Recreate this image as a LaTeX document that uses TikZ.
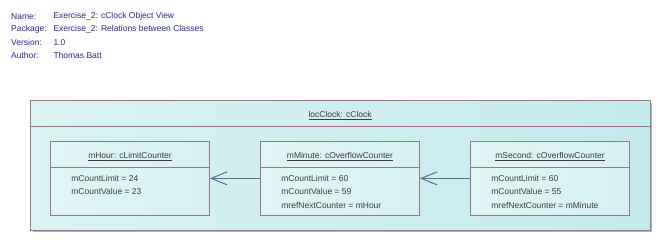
\documentclass[tikz,border=0pt]{standalone}
\usepackage{fontspec}
\setmainfont{Liberation Sans}
\usetikzlibrary{arrows.meta}

\definecolor{infotext}{RGB}{40,40,150}
\definecolor{boxline}{RGB}{150,122,122}
\definecolor{objtext}{RGB}{60,60,60}
\definecolor{linkline}{RGB}{95,110,138}
\definecolor{outerL}{RGB}{218,243,243}
\definecolor{outerR}{RGB}{196,234,238}
\definecolor{innerL}{RGB}{224,245,245}
\definecolor{innerR}{RGB}{214,241,243}
\definecolor{shadowgray}{RGB}{178,178,178}

\tikzset{
  txt/.style={font=\fontsize{8.5}{10}\selectfont, inner sep=0pt},
  info/.style={txt, text=infotext, anchor=west},
  objbox/.style={draw=boxline, line width=1pt, left color=innerL, right color=innerR,
    minimum width=158.6pt, minimum height=73.3pt, inner sep=0pt},
  objtitle/.style={txt, text=objtext},
  attr/.style={txt, text=objtext, anchor=west},
  sepline/.style={draw=boxline, line width=1pt},
  link/.style={draw=linkline, line width=1pt, -{Straight Barb[length=16pt, width=13pt, line width=1pt]}}
}

\newcommand{\ulabel}[1]{\underline{#1}}

\begin{document}
\begin{tikzpicture}[x=1pt, y=-1pt]
  \useasboundingbox (0,0) rectangle (660,241);
  \fill[white] (0,0) rectangle (660,241);

  % document properties
  \node[info] (lname) at (11,16.3) {Name:};
  \node[info] (lpkg)  at (11,29.5) {Package:};
  \node[info] (lver)  at (11,42.7) {Version:};
  \node[info] (lauth) at (11,55.8) {Author:};
  \node[info] (vname) at (53.3,16.3) {Exercise\_2: cClock Object View};
  \node[info] (vpkg)  at (53.3,29.5) {Exercise\_2: Relations between Classes};
  \node[info] (vver)  at (53.3,42.7) {1.0};
  \node[info] (vauth) at (53.3,55.8) {Thomas Batt};

  % enclosing object locClock
  \fill[shadowgray] (32.5,102.5) rectangle (652.3,232.3);
  \node[draw=boxline, line width=1pt, left color=outerL, right color=outerR,
        minimum width=619.7pt, minimum height=129.7pt, inner sep=0pt]
        (clock) at (340.15,165.15) {};
  \draw[sepline] ([yshift=-27pt]clock.north west) -- ([yshift=-27pt]clock.north east);
  \node[objtitle] (clocktitle) at ([yshift=-15.5pt]clock.north) {\ulabel{locClock: cClock}};

  % mHour
  \node[objbox] (mHour) at (130,178.35) {};
  \draw[sepline] ([yshift=-26.6pt]mHour.north west) -- ([yshift=-26.6pt]mHour.north east);
  \node[objtitle] (mHourT) at ([yshift=-15.3pt]mHour.north) {\ulabel{mHour: cLimitCounter}};
  \node[attr] (mHourA1) at ([xshift=21pt,yshift=-37.3pt]mHour.north west) {mCountLimit = 24};
  \node[attr] (mHourA2) at ([xshift=21pt,yshift=-50.6pt]mHour.north west) {mCountValue = 23};

  % mMinute
  \node[objbox] (mMinute) at (340,178.35) {};
  \draw[sepline] ([yshift=-26.6pt]mMinute.north west) -- ([yshift=-26.6pt]mMinute.north east);
  \node[objtitle] (mMinuteT) at ([yshift=-15.3pt]mMinute.north) {\ulabel{mMinute: cOverflowCounter}};
  \node[attr] (mMinuteA1) at ([xshift=21pt,yshift=-37.3pt]mMinute.north west) {mCountLimit = 60};
  \node[attr] (mMinuteA2) at ([xshift=21pt,yshift=-50.6pt]mMinute.north west) {mCountValue = 59};
  \node[attr] (mMinuteA3) at ([xshift=21pt,yshift=-63.9pt]mMinute.north west) {mrefNextCounter = mHour};

  % mSecond
  \node[objbox] (mSecond) at (550,178.35) {};
  \draw[sepline] ([yshift=-26.6pt]mSecond.north west) -- ([yshift=-26.6pt]mSecond.north east);
  \node[objtitle] (mSecondT) at ([yshift=-15.3pt]mSecond.north) {\ulabel{mSecond: cOverflowCounter}};
  \node[attr] (mSecondA1) at ([xshift=21pt,yshift=-37.3pt]mSecond.north west) {mCountLimit = 60};
  \node[attr] (mSecondA2) at ([xshift=21pt,yshift=-50.6pt]mSecond.north west) {mCountValue = 55};
  \node[attr] (mSecondA3) at ([xshift=21pt,yshift=-63.9pt]mSecond.north west) {mrefNextCounter = mMinute};

  % links
  \draw[link] (mMinute.west) -- (mHour.east);
  \draw[link] (mSecond.west) -- (mMinute.east);
\end{tikzpicture}
\end{document}
